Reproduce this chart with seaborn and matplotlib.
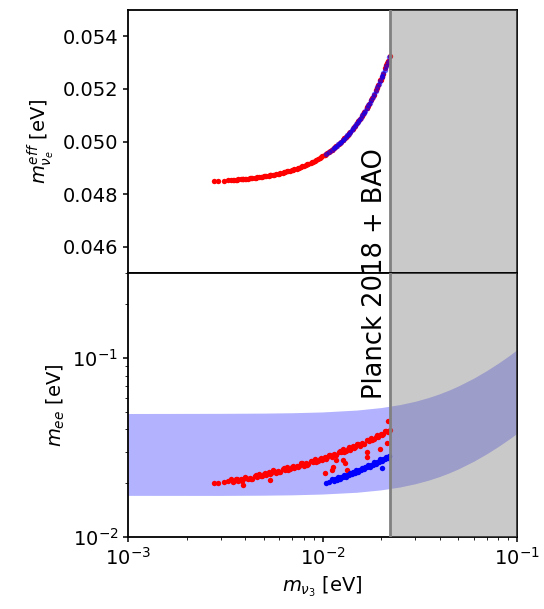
import numpy as np
import pandas as pd
import matplotlib
matplotlib.use("Agg")
import matplotlib.pyplot as plt
import matplotlib.ticker as mticker
import seaborn as sns

# ---------------- data ----------------
# red sample points: lightest mass m3, effective beta mass, m_ee
red_m3 = [0.00278, 0.00291, 0.00310, 0.00328,
          0.00340, 0.00350, 0.00359, 0.00369, 0.00379, 0.00390, 0.00401, 0.00412,
          0.00424, 0.00436, 0.00448, 0.00460, 0.00473, 0.00486, 0.00500, 0.00514,
          0.00528, 0.00543, 0.00558, 0.00574, 0.00590, 0.00606, 0.00623, 0.00641,
          0.00659, 0.00677, 0.00696, 0.00716, 0.00736, 0.00756, 0.00777, 0.00799,
          0.00822, 0.00845, 0.00868, 0.00893, 0.00918, 0.00943, 0.00970, 0.00997,
          0.01025, 0.01054, 0.01083, 0.01113, 0.01145, 0.01177, 0.01210, 0.01244,
          0.01278, 0.01314, 0.01351, 0.01389, 0.01428, 0.01468, 0.01509, 0.01551,
          0.01594, 0.01639, 0.01685, 0.01732, 0.01781, 0.01830, 0.01882, 0.01935,
          0.01989, 0.02044, 0.02102, 0.02161, 0.02215,
          0.00345, 0.00364, 0.00384, 0.00406, 0.00430, 0.00454, 0.00480, 0.00507,
          0.00535, 0.00566, 0.00598, 0.00632, 0.00668, 0.00706, 0.00746, 0.00788,
          0.00833, 0.00880, 0.00930, 0.00983, 0.01039, 0.01098, 0.01161, 0.01227,
          0.01296, 0.01370, 0.01448, 0.01530, 0.01616, 0.01708, 0.01805, 0.01908,
          0.02016, 0.02131,
          0.01030, 0.01133, 0.01118, 0.01274, 0.01300, 0.01332, 0.01694, 0.01690,
          0.01985, 0.02150, 0.02170, 0.00390, 0.00536, 0.01180]
red_meff = [0.048495, 0.048502, 0.048514, 0.048526,
            0.048534, 0.048542, 0.048548, 0.048556, 0.048563, 0.048572, 0.048581, 0.048590,
            0.048601, 0.048611, 0.048622, 0.048634, 0.048646, 0.048659, 0.048673, 0.048688,
            0.048703, 0.048720, 0.048737, 0.048754, 0.048773, 0.048792, 0.048814, 0.048837,
            0.048861, 0.048886, 0.048912, 0.048941, 0.048971, 0.049001, 0.049034, 0.049070,
            0.049108, 0.049147, 0.049186, 0.049231, 0.049277, 0.049325, 0.049377, 0.049431,
            0.049488, 0.049549, 0.049612, 0.049678, 0.049750, 0.049825, 0.049904, 0.049988,
            0.050073, 0.050167, 0.050265, 0.050368, 0.050477, 0.050592, 0.050712, 0.050839,
            0.050972, 0.051114, 0.051263, 0.051420, 0.051587, 0.051758, 0.051944, 0.052138,
            0.052341, 0.052553, 0.052781, 0.053019, 0.053241,
            0.048538, 0.048552, 0.048567, 0.048585, 0.048606, 0.048627, 0.048652, 0.048680,
            0.048710, 0.048745, 0.048783, 0.048826, 0.048874, 0.048927, 0.048987, 0.049052,
            0.049126, 0.049208, 0.049300, 0.049403, 0.049518, 0.049645, 0.049788, 0.049946,
            0.050120, 0.050316, 0.050534, 0.050775, 0.051041, 0.051339, 0.051670, 0.052039,
            0.052445, 0.052897,
            0.049499, 0.049723, 0.049689, 0.050063, 0.050130, 0.050214, 0.051293, 0.051280,
            0.052326, 0.052974, 0.053056, 0.048572, 0.048711, 0.049832]
red_mee = [0.0200, 0.0201, 0.0203, 0.0205,
           0.0211, 0.0205, 0.0210, 0.0205, 0.0212, 0.0210, 0.0216, 0.0210,
           0.0215, 0.0211, 0.0219, 0.0218, 0.0225, 0.0220, 0.0226, 0.0221,
           0.0230, 0.0228, 0.0236, 0.0229, 0.0235, 0.0231, 0.0240, 0.0238,
           0.0246, 0.0239, 0.0246, 0.0242, 0.0251, 0.0250, 0.0258, 0.0251,
           0.0258, 0.0255, 0.0265, 0.0263, 0.0272, 0.0265, 0.0273, 0.0270,
           0.0280, 0.0279, 0.0289, 0.0282, 0.0291, 0.0287, 0.0299, 0.0298,
           0.0309, 0.0302, 0.0312, 0.0308, 0.0321, 0.0320, 0.0333, 0.0325,
           0.0336, 0.0332, 0.0347, 0.0346, 0.0360, 0.0353, 0.0365, 0.0362,
           0.0378, 0.0377, 0.0393, 0.0385, 0.0399,
           0.0203, 0.0212, 0.0206, 0.0215, 0.0210, 0.0221, 0.0219, 0.0229,
           0.0225, 0.0235, 0.0231, 0.0242, 0.0238, 0.0250, 0.0245, 0.0258,
           0.0253, 0.0267, 0.0263, 0.0277, 0.0274, 0.0289, 0.0286, 0.0302,
           0.0299, 0.0317, 0.0314, 0.0333, 0.0331, 0.0351, 0.0350, 0.0371,
           0.0370, 0.0394,
           0.0229, 0.0247, 0.0236, 0.0271, 0.0260, 0.0238, 0.0300, 0.0282,
           0.0310, 0.0336, 0.0447, 0.0196, 0.0209, 0.0268]

# blue sample points
blue_m3 = [0.01042, 0.01085,
           0.01120, 0.01140, 0.01161, 0.01182, 0.01203, 0.01225, 0.01247, 0.01269,
           0.01292, 0.01315, 0.01339, 0.01363, 0.01387, 0.01412, 0.01438, 0.01464,
           0.01490, 0.01517, 0.01544, 0.01572, 0.01600, 0.01629, 0.01658, 0.01688,
           0.01718, 0.01749, 0.01781, 0.01813, 0.01845, 0.01878, 0.01912, 0.01947,
           0.01982, 0.02017, 0.02054, 0.02091, 0.02128, 0.02166, 0.02205, 0.02030]
blue_meff = [0.049524, 0.049616,
             0.049694, 0.049739, 0.049788, 0.049837, 0.049887, 0.049941, 0.049995, 0.050050,
             0.050109, 0.050169, 0.050233, 0.050297, 0.050363, 0.050432, 0.050506, 0.050580,
             0.050656, 0.050736, 0.050817, 0.050903, 0.050990, 0.051082, 0.051175, 0.051273,
             0.051373, 0.051477, 0.051587, 0.051698, 0.051811, 0.051930, 0.052054, 0.052184,
             0.052315, 0.052449, 0.052592, 0.052737, 0.052885, 0.053040, 0.053200, 0.052499]
blue_mee = [0.0201, 0.0204,
            0.0210, 0.0205, 0.0210, 0.0209, 0.0216, 0.0211, 0.0216, 0.0216,
            0.0222, 0.0217, 0.0223, 0.0222, 0.0229, 0.0224, 0.0230, 0.0229,
            0.0236, 0.0231, 0.0238, 0.0237, 0.0244, 0.0239, 0.0246, 0.0245,
            0.0253, 0.0248, 0.0254, 0.0254, 0.0262, 0.0257, 0.0264, 0.0263,
            0.0272, 0.0266, 0.0274, 0.0273, 0.0282, 0.0277, 0.0285, 0.0242]

# inverted-ordering m_ee band (lavender)
band_m3 = [0.001, 0.003, 0.005, 0.007, 0.01, 0.015, 0.02, 0.025, 0.03, 0.035,
           0.04, 0.045, 0.05, 0.06, 0.07, 0.08, 0.09, 0.1]
band_upper = [0.0491, 0.0492, 0.04935, 0.04959, 0.0501, 0.05133, 0.0530, 0.05509, 0.0575,
              0.06029, 0.06332, 0.0666, 0.0701, 0.07752, 0.0855, 0.09386, 0.10252, 0.1117]
band_lower = [0.0171, 0.01709, 0.01714, 0.01722, 0.0174, 0.0178, 0.01836, 0.01905, 0.01987,
              0.02079, 0.0218, 0.0229, 0.02407, 0.02657, 0.02926, 0.03207, 0.0350, 0.0380]

planck_m3 = 0.0222          # cosmological bound on m3
planck_label = "Planck 2018 + BAO"

# ---------------- frames ----------------
red_df = pd.DataFrame({"m3": red_m3, "meff": red_meff, "mee": red_mee})
blue_df = pd.DataFrame({"m3": blue_m3, "meff": blue_meff, "mee": blue_mee})
band = pd.DataFrame({"m3": band_m3, "lo": band_lower, "hi": band_upper})

fig = plt.figure(figsize=(5.44, 6.09), dpi=100)
L, W = 0.2353, 0.7151
ax1 = fig.add_axes([L, 0.5517, W, 0.4319])
ax2 = fig.add_axes([L, 0.1182, W, 0.4335], sharex=ax1)

# top panel
sns.scatterplot(data=red_df, x="m3", y="meff", color="#ff0000", s=15,
                linewidth=0, legend=False, ax=ax1, zorder=3)
sns.scatterplot(data=blue_df, x="m3", y="meff", color="#0000ff", s=15, alpha=0.6,
                linewidth=0, legend=False, ax=ax1, zorder=3)
# bottom panel
ax2.fill_between(band["m3"], band["lo"], band["hi"], color="#0000ff", alpha=0.3,
                 linewidth=0, zorder=1)
sns.scatterplot(data=red_df, x="m3", y="mee", color="#ff0000", s=15,
                linewidth=0, legend=False, ax=ax2, zorder=3)
sns.scatterplot(data=blue_df, x="m3", y="mee", color="#0000ff", s=15,
                linewidth=0, legend=False, ax=ax2, zorder=3)

for ax in (ax1, ax2):
    ax.axvspan(planck_m3, 0.1, color="grey", alpha=0.42, linewidth=0, zorder=4)
    ax.axvline(planck_m3, color="grey", lw=2, zorder=5)
    for s in ax.spines.values():
        s.set_linewidth(1.3)
    ax.tick_params(labelsize=14, width=1.1)

ax2.set_xscale("log")
ax2.set_yscale("log")
ax2.set_xlim(1e-3, 1e-1)
ax2.set_ylim(1e-2, 0.3)
ax1.set_ylim(0.045, 0.055)
ax1.set_yticks([0.046, 0.048, 0.050, 0.052, 0.054])
ax1.yaxis.set_major_formatter(mticker.FormatStrFormatter("%.3f"))
ax1.tick_params(axis="x", which="both", bottom=False, labelbottom=False)
ax2.yaxis.set_minor_formatter(mticker.NullFormatter())
ax2.xaxis.set_minor_formatter(mticker.NullFormatter())

ax1.set_xlabel("")
ax1.set_ylabel(r"$m^{eff}_{\nu_e}$ [eV]", fontsize=14)
ax2.set_ylabel(r"$m_{ee}$ [eV]", fontsize=14)
ax2.set_xlabel(r"$m_{\nu_3}$ [eV]", fontsize=14)

fig.text(388 / 544, 1 - 274 / 609, planck_label, rotation=90, fontsize=18.5,
         ha="right", va="center", zorder=10)

fig.savefig("out.png", dpi=100)
